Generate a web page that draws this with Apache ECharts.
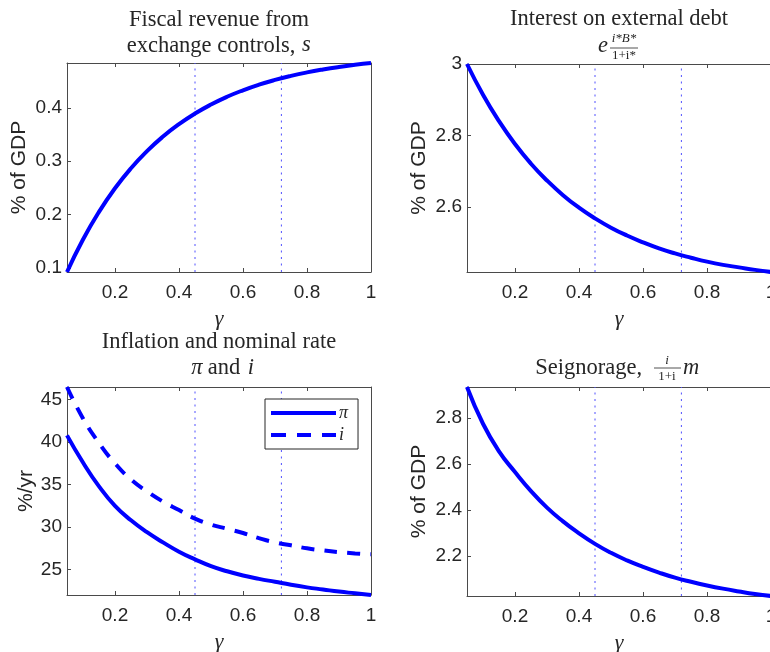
<!DOCTYPE html>
<html><head><meta charset="utf-8">
<script src="https://cdn.jsdelivr.net/npm/echarts@6/dist/echarts.min.js"></script>
<style>html,body{margin:0;padding:0;background:#fff}#c{width:770px;height:652px}</style>
</head><body><div id="c"></div>
<script>
// ---- data ----
const gamma = [0.05,0.10,0.15,0.20,0.25,0.30,0.35,0.40,0.45,0.50,0.55,0.60,0.65,0.70,0.75,0.80,0.85,0.90,0.95,1.00];
const fiscalRevenue = [0.0925,0.1533,0.2051,0.2493,0.2869,0.3189,0.3462,0.3695,0.3893,0.4062,0.4207,0.4329,0.4434,0.4523,0.4599,0.4664,0.4719,0.4766,0.4806,0.4840];
const externalInterest = [3.000,2.914,2.840,2.776,2.721,2.674,2.633,2.598,2.568,2.542,2.520,2.501,2.484,2.470,2.458,2.447,2.438,2.431,2.424,2.418];
const inflation = [40.8,37.6,34.8,32.5,30.8,29.4,28.2,27.1,26.2,25.4,24.8,24.3,23.9,23.55,23.2,22.9,22.65,22.4,22.2,22.0];
const nominalRate = [46.5,42.8,39.9,37.5,35.6,34.2,33.0,32.0,31.0,30.3,29.8,29.3,28.7,28.2,27.85,27.5,27.25,27.05,26.9,26.8];
const seignorage = [2.935,2.775,2.655,2.565,2.482,2.41,2.35,2.298,2.252,2.213,2.18,2.152,2.127,2.105,2.087,2.071,2.057,2.045,2.034,2.025];
const refGamma = [0.45, 0.72];
const xTicks = [0.2,0.4,0.6,0.8,1];
const yTicksRevenue = [0.1,0.2,0.3,0.4];
const yTicksInterest = [2.6,2.8,3];
const yTicksRates = [25,30,35,40,45];
const yTicksSeign = [2.2,2.4,2.6,2.8];
const legendNames = ['π','i'];
const yNames = ['% of GDP','% of GDP','%/yr','% of GDP'];
const xName = 'γ';

// ---- layout / style ----
const grids = [
  {left:67, top:63, width:304, height:209, outerBoundsMode:'none'},
  {left:467, top:64, width:304, height:208, outerBoundsMode:'none'},
  {left:67, top:387, width:304, height:208, outerBoundsMode:'none'},
  {left:467, top:387, width:304, height:209, outerBoundsMode:'none'}
];
const axisCol = '#4a4a4a', textCol = '#262626', blue = '#0000ff', refCol = '#5050ff';
const sans = '"Liberation Sans", Arial, sans-serif';
const serif = '"Liberation Serif", "Times New Roman", serif';
const fmt = v => String(+(+v).toFixed(3));
const yTickSets = [yTicksRevenue, yTicksInterest, yTicksRates, yTicksSeign];
const yNameGaps = [37, 37, 30, 37];

const xAxis = [], yAxis = [], series = [];
grids.forEach((g, gi) => {
  ['bottom','top'].forEach((pos, k) => {
    xAxis.push({
      type:'value', gridIndex:gi, position:pos, min:0.05, max:1,
      name: k===0 ? xName : '', nameLocation:'middle', nameGap:36,
      nameTextStyle:{fontFamily:serif, fontStyle:'italic', fontSize:22, color:textCol},
      axisLine:{show:true, onZero:false, lineStyle:{color:axisCol, width:1}},
      axisTick:{show:true, inside:true, length:4, customValues:xTicks, lineStyle:{color:axisCol}},
      axisLabel:{show:k===0, customValues:xTicks, formatter:fmt, margin:11, fontFamily:sans, fontSize:19, color:textCol},
      splitLine:{show:false}
    });
  });
  ['left','right'].forEach((pos, k) => {
    yAxis.push({
      type:'value', gridIndex:gi, position:pos, min:'dataMin', max:'dataMax', scale:true,
      name: k===0 ? yNames[gi] : '', nameLocation:'middle', nameGap:yNameGaps[gi], nameRotate:90,
      nameTextStyle:{fontFamily:sans, fontSize:21, color:textCol},
      axisLine:{show:true, onZero:false, lineStyle:{color:axisCol, width:1}},
      axisTick:{show:true, inside:true, length:4, customValues:yTickSets[gi], lineStyle:{color:axisCol}},
      axisLabel:{show:k===0, customValues:yTickSets[gi], formatter:fmt, margin:5, fontFamily:sans, fontSize:19, color:textCol},
      splitLine:{show:false}
    });
  });
});

// vertical reference lines spanning each panel's data range
function refLines(gi, arrays) {
  const lo = Math.min(...arrays.flat()), hi = Math.max(...arrays.flat());
  return refGamma.map(v => ({
    type:'line', xAxisIndex:2*gi, yAxisIndex:2*gi, z:1, silent:true, clip:false,
    symbol:'none', animation:false, legendHoverLink:false,
    lineStyle:{color:refCol, width:1, type:[2,4.5]},
    itemStyle:{color:refCol},
    data:[[v, lo], [v, hi]]
  }));
}
function curve(gi, vals, name, dashed) {
  return {
    type:'line', name:name, xAxisIndex:2*gi, yAxisIndex:2*gi, z:3, clip:false,
    symbol:'none', smooth:true, animation:false,
    lineStyle:{color:blue, width:4, type: dashed ? [13,10] : 'solid'},
    itemStyle:{color:blue},
    data: gamma.map((x, j) => [x, vals[j]])
  };
}
series.push(...refLines(0, [fiscalRevenue]), curve(0, fiscalRevenue, 'revenue'));
series.push(...refLines(1, [externalInterest]), curve(1, externalInterest, 'interest'));
series.push(...refLines(2, [inflation, nominalRate]), curve(2, inflation, legendNames[0], false), curve(2, nominalRate, legendNames[1], true));
series.push(...refLines(3, [seignorage]), curve(3, seignorage, 'seignorage'));

const T = (x, y, text, size, opts) => Object.assign({
  type:'text', x:x, y:y,
  style:Object.assign({text:text, fill:textCol, font:size+'px '+serif, align:'center', verticalAlign:'middle'}, opts||{})
});
const It = (x, y, text, size, align) => T(x, y, text, size, {font:'italic '+size+'px '+serif, align:align||'center'});
const Ln = (x1, x2, y) => ({type:'line', shape:{x1:x1, y1:y, x2:x2, y2:y}, style:{stroke:textCol, lineWidth:0.8}});

const graphic = [
  // top-left title
  T(219, 20, 'Fiscal revenue from', 22.5),
  T(211, 46, 'exchange controls,', 22.5),
  It(302, 45, 's', 22.5, 'left'),
  // top-right title
  T(619, 19, 'Interest on external debt', 22.5),
  It(603, 46, 'e', 22.5),
  It(624, 39, 'i*B*', 13),
  Ln(610, 638, 48),
  T(624, 56, '1+i*', 13),
  // bottom-left title
  T(219, 342, 'Inflation and nominal rate', 22.5),
  It(197, 368, 'π', 22.5),
  T(224, 368, 'and', 22.5),
  It(251, 368, 'i', 22.5),
  // bottom-right title
  T(642, 368, 'Seignorage,', 22.5, {align:'right'}),
  It(667, 361, 'i', 13),
  Ln(654, 681, 368),
  T(667, 377, '1+i', 13),
  It(683, 368, 'm', 22.5, 'left')
];

const solidIcon = 'path://M0,0h65v4h-65z';
const dashIcon = 'path://M0,0h15v4h-15z M26,0h14v4h-14z M51,0h14v4h-14z';

const chart = echarts.init(document.getElementById('c'), null, {renderer:'canvas'});
chart.setOption({
  animation:false,
  backgroundColor:'#fff',
  grid: grids,
  xAxis: xAxis,
  yAxis: yAxis,
  series: series,
  legend:{
    data: [{name:legendNames[0], icon:solidIcon}, {name:legendNames[1], icon:dashIcon}],
    left:265, top:399, orient:'vertical',
    itemWidth:65, itemHeight:4, itemGap:4, symbolKeepAspect:false,
    itemStyle:{color:blue},
    borderColor:'#262626', borderWidth:1, borderRadius:0, padding:[5,10,5,6],
    backgroundColor:'#fff',
    textStyle:{fontFamily:serif, fontStyle:'italic', fontSize:18, color:textCol, padding:[0,0,0,-2]}
  },
  graphic: graphic
});
</script></body></html>
